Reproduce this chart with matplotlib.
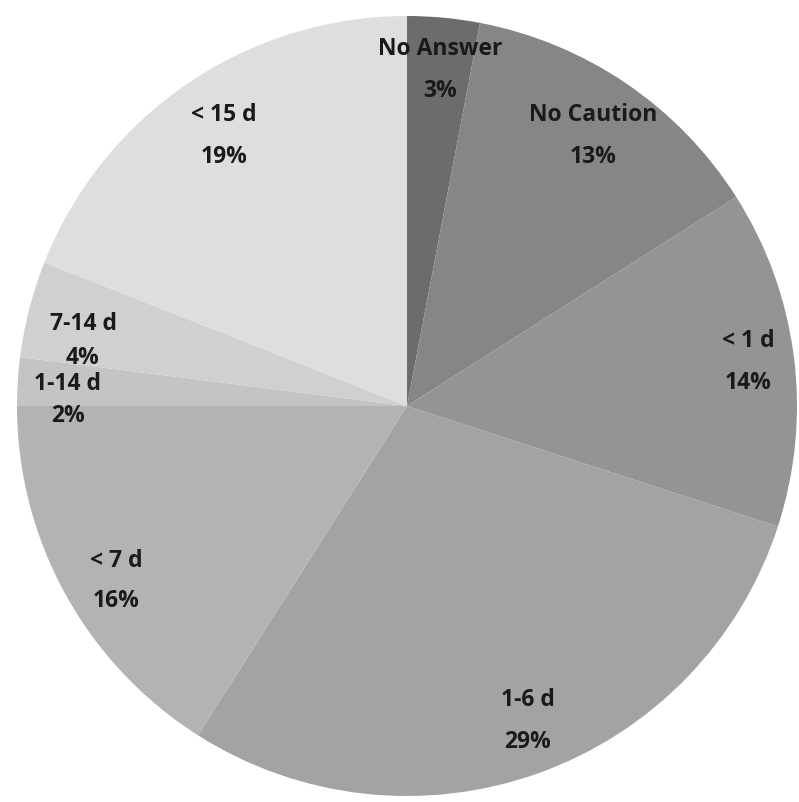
import matplotlib
matplotlib.use("Agg")
import matplotlib.pyplot as plt

categories = ["No Answer", "No Caution", "< 1 d", "1-6 d", "< 7 d", "1-14 d", "7-14 d", "< 15 d"]
values = [3, 13, 14, 29, 16, 2, 4, 19]
colors = ["#6c6c6c", "#868686", "#949494", "#a3a3a3", "#b3b3b3", "#c4c4c4", "#d0d0d0", "#dedede"]

W, H = 799, 802
# layout: label centres in pixels (from top-left) and line spacing
label_xy = [(440, 70), (593, 136), (748, 362), (528, 721),
            (116, 581), (68, 400), (83, 341), (224, 136)]
label_ls = [1.95, 2.0, 2.0, 2.0, 1.85, 1.5, 1.6, 2.0]

fig = plt.figure(figsize=(W / 100, H / 100), dpi=100)
ax = fig.add_axes([0, 0, 1, 1])

labels = [f"{c}\n{v}%" for c, v in zip(categories, values)]
wedges, texts = ax.pie(values, labels=labels, colors=colors, startangle=90,
                       counterclock=False, center=(407, 396), radius=390,
                       labeldistance=0.87, frame=True,
                       wedgeprops=dict(linewidth=0),
                       textprops=dict(fontfamily="Open Sans", fontweight="bold",
                                      fontsize=16.5, color="#1a1a1a",
                                      linespacing=2.0))
for t, (px, py), ls in zip(texts, label_xy, label_ls):
    t.set_ha("center")
    t.set_va("center")
    t.set_multialignment("center")
    t.set_linespacing(ls)
    t.set_position((px, H - py))
ax.set_xlim(0, W)
ax.set_ylim(0, H)
ax.set_aspect("equal")
ax.axis("off")

fig.savefig("out.png", dpi=100)
